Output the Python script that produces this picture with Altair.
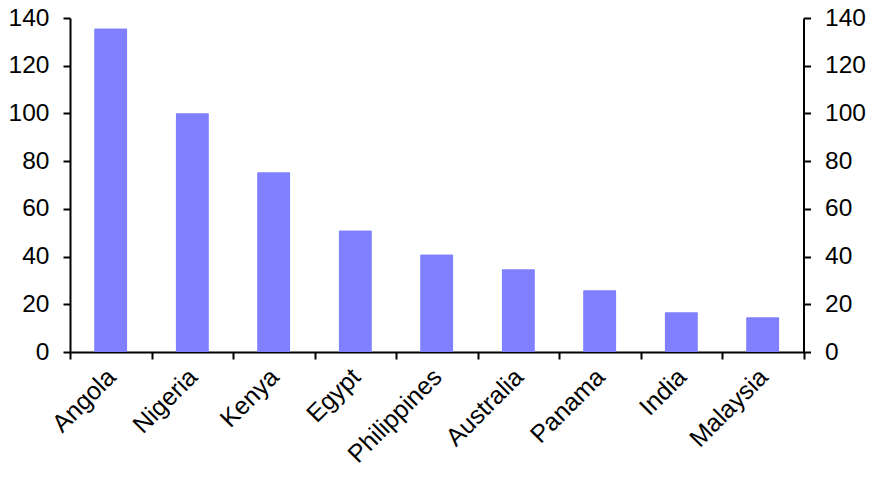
import altair as alt
import pandas as pd

countries = ["Angola", "Nigeria", "Kenya", "Egypt", "Philippines", "Australia", "Panama", "India", "Malaysia"]
values = [135.5, 100, 75.2, 50.8, 40.8, 34.6, 25.8, 16.6, 14.5]

df = pd.DataFrame({"country": countries, "value": values})

FONT = "Liberation Sans"
FS = 25

x = alt.X("country:N", sort=countries, title=None,
          scale=alt.Scale(paddingInner=0, paddingOuter=0),
          axis=alt.Axis(labelAngle=-45, tickBand="extent", labelFontSize=FS, labelFont=FONT,
                        labelColor="black", domainColor="black", tickColor="black",
                        domainWidth=2, tickWidth=2, tickSize=7, labelPadding=5, labelOffset=-8,
                        grid=False))

yscale = alt.Scale(domain=[0, 140])
yvals = [0, 20, 40, 60, 80, 100, 120, 140]

def yaxis(orient):
    return alt.Axis(orient=orient, values=yvals, labelFontSize=24.5, labelFont=FONT,
                    labelColor="black", domainColor="black", tickColor="black",
                    domainWidth=2, tickWidth=2, tickSize=7, labelPadding=14, grid=False)

base = alt.Chart(df)
left = base.mark_bar(color="#8080FF", width=alt.RelativeBandSize(0.4)).encode(
    x=x, y=alt.Y("value:Q", title=None, scale=yscale, axis=yaxis("left")))
right = base.mark_bar(color="#8080FF", width=alt.RelativeBandSize(0.4)).encode(
    x=x, y=alt.Y("value:Q", title=None, scale=yscale, axis=yaxis("right")))

chart = alt.layer(left, right).resolve_axis(y="independent").properties(
    width=733.5, height=334,
    autosize=alt.AutoSizeParams(type="none"),
    padding={"left": 62, "top": 10, "right": 64, "bottom": 125},
).configure_view(stroke=None)

chart.save("out.html", embed_options={"renderer": "svg", "actions": False})
